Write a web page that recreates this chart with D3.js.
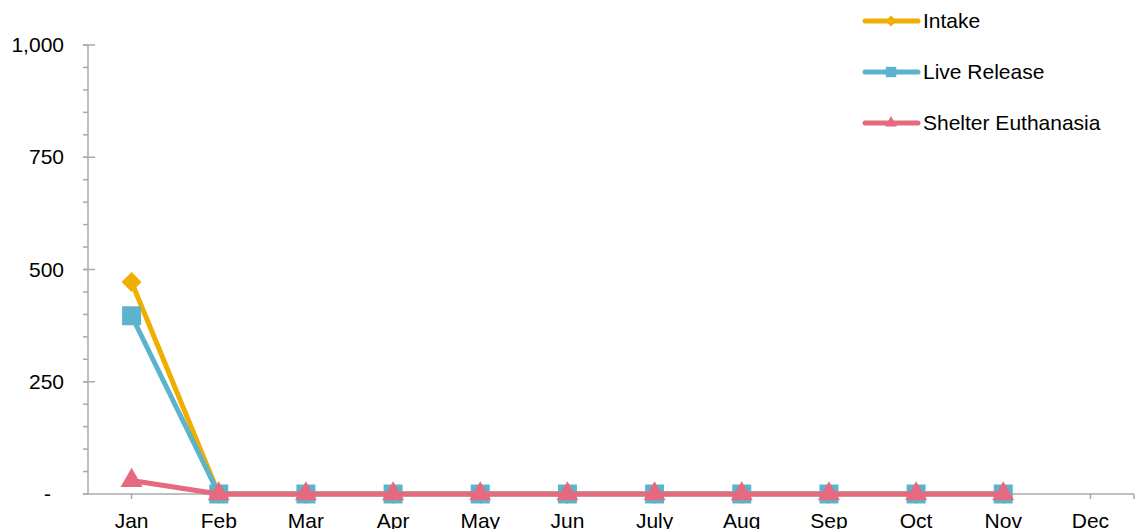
<!DOCTYPE html>
<html>
<head>
<meta charset="utf-8">
<script src="https://cdn.jsdelivr.net/npm/d3@7"></script>
<style>
  body { margin: 0; background: #fff; }
  text { font-family: "Liberation Sans", Arial, sans-serif; fill: #000; }
</style>
</head>
<body>
<script>
var months = ["Jan", "Feb", "Mar", "Apr", "May", "Jun", "July", "Aug", "Sep", "Oct", "Nov", "Dec"];
var intake = [472, 0, 0, 0, 0, 0, 0, 0, 0, 0, 0, null];
var liveRelease = [397, 0, 0, 0, 0, 0, 0, 0, 0, 0, 0, null];
var euthanasia = [30, 0, 0, 0, 0, 0, 0, 0, 0, 0, 0, null];
var yTicks = [0, 250, 500, 750, 1000];

var series = [
  { name: "Intake", values: intake, color: "#F0AE00", shape: "diamond" },
  { name: "Live Release", values: liveRelease, color: "#5BB3CC", shape: "square" },
  { name: "Shelter Euthanasia", values: euthanasia, color: "#E5697F", shape: "triangle" }
];

var W = 1139, H = 529;
var plotLeft = 88, plotRight = 1134, plotTop = 45, plotBottom = 494;

var svg = d3.select("body").append("svg")
    .attr("width", W)
    .attr("height", H);

var x = d3.scaleBand().domain(months).range([plotLeft, plotRight]);
var y = d3.scaleLinear().domain([0, 1000]).range([plotBottom, plotTop]);
var cx = function(m) { return x(m) + x.bandwidth() / 2; };

// marker shapes: diamond is a square turned 45deg
function marker(shape, scale) {
  if (shape === "square") return { d: d3.symbol().type(d3.symbolSquare).size(360 * scale)(), rot: 0 };
  if (shape === "triangle") return { d: d3.symbol().type(d3.symbolTriangle).size(210 * scale)(), rot: 0 };
  return { d: d3.symbol().type(d3.symbolSquare).size(200 * scale)(), rot: 45 };
}

// y axis: line, minor ticks every 50, major ticks cross
svg.append("line")
    .attr("x1", plotLeft).attr("x2", plotLeft)
    .attr("y1", plotTop).attr("y2", plotBottom)
    .attr("stroke", "#aaa").attr("stroke-width", 1.5);
svg.selectAll(".minor")
    .data(d3.range(0, 1001, 50))
    .enter().append("line")
    .attr("x1", plotLeft - 5).attr("x2", plotLeft)
    .attr("y1", function(d) { return y(d); })
    .attr("y2", function(d) { return y(d); })
    .attr("stroke", "#aaa").attr("stroke-width", 1.5);
svg.selectAll(".major")
    .data(yTicks.filter(function(d) { return d > 0; }))
    .enter().append("line")
    .attr("x1", plotLeft - 5).attr("x2", plotLeft + 7)
    .attr("y1", function(d) { return y(d); })
    .attr("y2", function(d) { return y(d); })
    .attr("stroke", "#aaa").attr("stroke-width", 1.5);
svg.selectAll(".ylab")
    .data(yTicks)
    .enter().append("text")
    .attr("x", function(d) { return d === 0 ? 51 : 64; })
    .attr("y", function(d) { return y(d) + 7; })
    .attr("text-anchor", "end")
    .style("font-size", "21px")
    .text(function(d) { return d === 0 ? "-" : d3.format(",")(d); });

// x axis
svg.append("line")
    .attr("x1", plotLeft - 5).attr("x2", plotRight)
    .attr("y1", plotBottom).attr("y2", plotBottom)
    .attr("stroke", "#aaa").attr("stroke-width", 1.5);
svg.selectAll(".xtick")
    .data(months)
    .enter().append("line")
    .attr("x1", cx).attr("x2", cx)
    .attr("y1", plotBottom).attr("y2", plotBottom + 5)
    .attr("stroke", "#aaa").attr("stroke-width", 1.5);
svg.append("line")
    .attr("x1", plotRight).attr("x2", plotRight)
    .attr("y1", plotBottom).attr("y2", plotBottom + 5)
    .attr("stroke", "#aaa").attr("stroke-width", 1.5);
svg.selectAll(".xlab")
    .data(months)
    .enter().append("text")
    .attr("x", cx)
    .attr("y", 528)
    .attr("text-anchor", "middle")
    .style("font-size", "21px")
    .text(function(d) { return d; });

// lines and markers
var line = d3.line()
    .defined(function(d) { return d != null; })
    .x(function(d, i) { return cx(months[i]); })
    .y(function(d) { return y(d); });

series.forEach(function(s) {
  svg.append("path")
      .datum(s.values)
      .attr("fill", "none")
      .attr("stroke", s.color)
      .attr("stroke-width", 5)
      .attr("stroke-linejoin", "round")
      .attr("d", line);
  var mk = marker(s.shape, 1);
  svg.selectAll(null)
      .data(s.values.map(function(v, i) { return { v: v, m: months[i] }; })
        .filter(function(d) { return d.v != null; }))
      .enter().append("path")
      .attr("d", mk.d)
      .attr("transform", function(d) { return "translate(" + cx(d.m) + "," + y(d.v) + ") rotate(" + mk.rot + ")"; })
      .attr("fill", s.color);
});

// legend
series.forEach(function(s, i) {
  var ly = 21 + i * 51;
  var g = svg.append("g");
  g.append("line")
      .attr("x1", 865).attr("x2", 918)
      .attr("y1", ly).attr("y2", ly)
      .attr("stroke", s.color).attr("stroke-width", 5)
      .attr("stroke-linecap", "round");
  var mk = marker(s.shape, 0.3);
  g.append("path")
      .attr("d", mk.d)
      .attr("transform", "translate(891," + ly + ") rotate(" + mk.rot + ")")
      .attr("fill", s.color);
  g.append("text")
      .attr("x", 923).attr("y", ly + 7)
      .style("font-size", "21px")
      .text(s.name);
});
</script>
</body>
</html>
